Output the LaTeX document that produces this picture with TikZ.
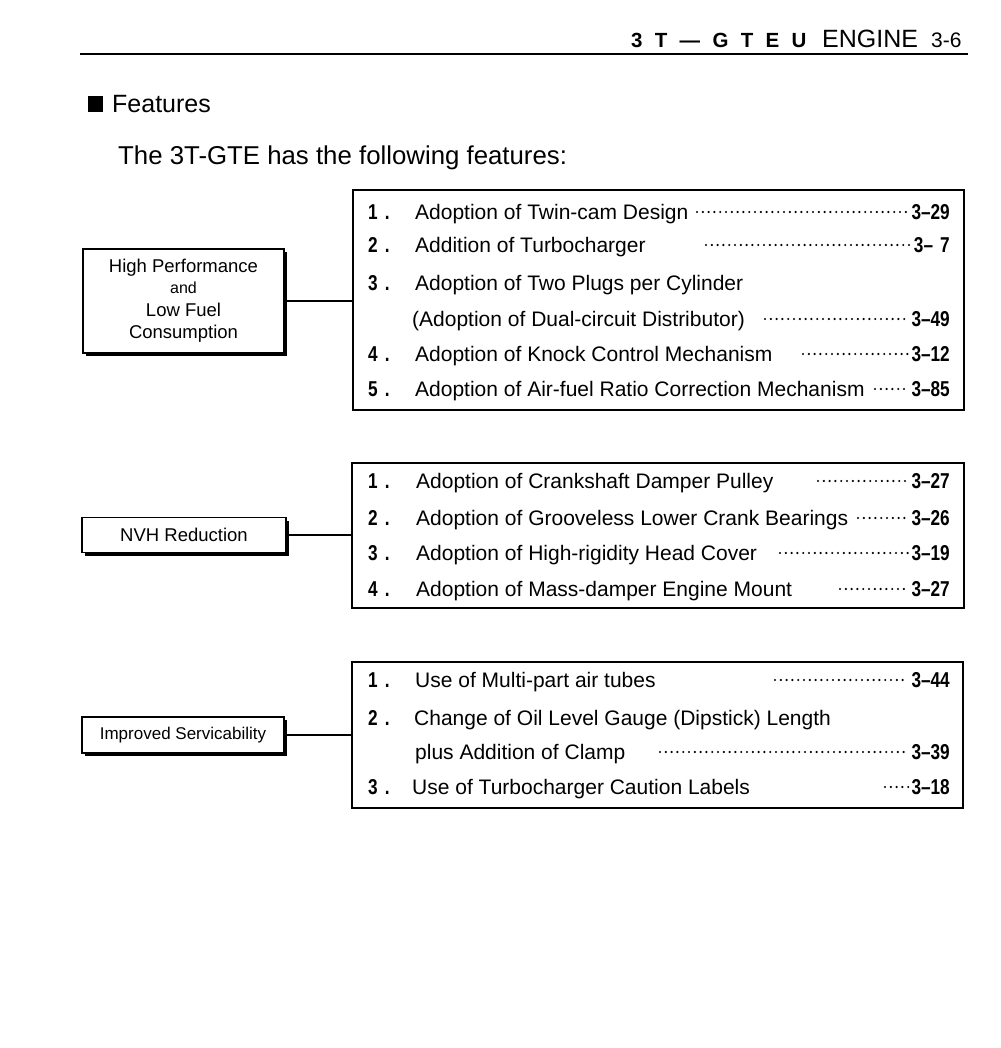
\documentclass[tikz,border=0pt]{standalone}
\usepackage{fontspec}
\setmainfont{Liberation Sans}
\newfontfamily\condfont{Liberation Sans}[FakeStretch=0.8]
\newfontfamily\spacedfont{Liberation Sans}[LetterSpace=60]
\usetikzlibrary{shadows}

\begin{document}
\begin{tikzpicture}[x=1pt,y=-1pt,
  groupbox/.style={draw=black,line width=1.1pt,fill=white,inner sep=0pt,align=center,
    drop shadow={shadow xshift=3pt,shadow yshift=-3pt,opacity=1,fill=black}},
  listbox/.style={draw=black,line width=1.3pt,inner sep=0pt},
  itemtext/.style={anchor=west,inner sep=0pt,text height=15pt,text depth=0pt,font=\fontsize{21}{25}\selectfont},
  itemnum/.style={anchor=west,inner sep=0pt,text height=15pt,text depth=0pt,font=\condfont\bfseries\fontsize{21.5}{25}\selectfont},
  itemref/.style={anchor=east,inner sep=0pt,text height=15pt,text depth=0pt,font=\condfont\bfseries\fontsize{21.5}{25}\selectfont},
  leader/.style={line width=2.4pt,line cap=round,dash pattern=on 0pt off 5.8pt,shorten >=3pt}]
\useasboundingbox (0,0) rectangle (1000,1048);

\node[anchor=base west,inner sep=0pt,font=\spacedfont\bfseries\fontsize{20.5}{24}\selectfont](code) at (631,48) {3T—GTEU};
\node[anchor=base west,inner sep=0pt,font=\fontsize{25}{29}\selectfont](engine) at (822,48) {ENGINE};
\node[anchor=base west,inner sep=0pt,font=\fontsize{21}{25}\selectfont](page) at (931,48) {3-6};
\draw[line width=1.4pt] (80,54) -- (968,54);

\node[fill=black,minimum width=15pt,minimum height=16pt,inner sep=0pt](bullet) at (95.5,104) {};
\node[anchor=west,inner sep=0pt,text height=18pt,text depth=0pt,font=\fontsize{25}{30}\selectfont](features) at (112,104) {Features};
\node[anchor=west,inner sep=0pt,text height=18pt,text depth=0pt,font=\fontsize{25.8}{30}\selectfont](intro) at (118,156) {The 3T-GTE has the following features:};

\node[groupbox,minimum width=201pt,minimum height=104pt,font=\fontsize{18.5}{22.5}\selectfont](perf) at (183.5,301) {High Performance\\[-1.5pt]{\fontsize{16}{18}\selectfont and}\\Low Fuel\\Consumption};
\node[groupbox,minimum width=204pt,minimum height=35pt,font=\fontsize{18.5}{22.5}\selectfont](nvh) at (184,535) {NVH Reduction};
\node[groupbox,minimum width=202pt,minimum height=36pt,font=\fontsize{17}{20}\selectfont](serv) at (183,735) {Improved Servicability};

\node[listbox,minimum width=611pt,minimum height=220pt](perflist) at (658.5,300) {};
\node[listbox,minimum width=612pt,minimum height=145pt](nvhlist) at (658,535.5) {};
\node[listbox,minimum width=611pt,minimum height=146pt](servlist) at (657.5,735) {};

\draw[line width=1.1pt] (perf.east) -- (perf.east -| perflist.west);
\draw[line width=1.1pt] (nvh.east) -- (nvh.east -| nvhlist.west);
\draw[line width=1.1pt] (serv.east) -- (serv.east -| servlist.west);

\node[itemnum](pn1) at (368,212) {1\hspace{7pt}.};
\node[itemtext](pt1) at (415,212) {Adoption of Twin-cam Design};
\node[itemref](pr1) at (950,212) {3–29};
\node[itemnum](pn2) at (368,245) {2\hspace{7pt}.};
\node[itemtext](pt2) at (415,245) {Addition of Turbocharger};
\node[itemref](pr2) at (950,245) {3–\,\,7};
\node[itemnum](pn3) at (368,283) {3\hspace{7pt}.};
\node[itemtext](pt3) at (415,283) {Adoption of Two Plugs per Cylinder};
\node[itemtext](pt3b) at (412,319) {(Adoption of Dual-circuit Distributor)};
\node[itemref](pr3) at (950,319) {3–49};
\node[itemnum](pn4) at (368,354) {4\hspace{7pt}.};
\node[itemtext](pt4) at (415,354) {Adoption of Knock Control Mechanism};
\node[itemref](pr4) at (950,354) {3–12};
\node[itemnum](pn5) at (368,389) {5\hspace{7pt}.};
\node[itemtext](pt5) at (415,389) {Adoption of Air-fuel Ratio Correction Mechanism};
\node[itemref](pr5) at (950,389) {3–85};

\coordinate (pd1) at (697,212);
\coordinate (pd2) at (706,245);
\coordinate (pd3) at (765,319);
\coordinate (pd4) at (803,354);
\coordinate (pd5) at (875,389);
\draw[leader] (pd1) -- (pr1.west);
\draw[leader] (pd2) -- (pr2.west);
\draw[leader] (pd3) -- (pr3.west);
\draw[leader] (pd4) -- (pr4.west);
\draw[leader] (pd5) -- (pr5.west);

\node[itemnum](nn1) at (368,481) {1\hspace{7pt}.};
\node[itemtext](nt1) at (416,481) {Adoption of Crankshaft Damper Pulley};
\node[itemref](nr1) at (950,481) {3–27};
\node[itemnum](nn2) at (368,518) {2\hspace{7pt}.};
\node[itemtext](nt2) at (416,518) {Adoption of Grooveless Lower Crank Bearings};
\node[itemref](nr2) at (950,518) {3–26};
\node[itemnum](nn3) at (368,553) {3\hspace{7pt}.};
\node[itemtext](nt3) at (416,553) {Adoption of High-rigidity Head Cover};
\node[itemref](nr3) at (950,553) {3–19};
\node[itemnum](nn4) at (368,589) {4\hspace{7pt}.};
\node[itemtext](nt4) at (416,589) {Adoption of Mass-damper Engine Mount};
\node[itemref](nr4) at (950,589) {3–27};

\coordinate (nd1) at (818,481);
\coordinate (nd2) at (858,518);
\coordinate (nd3) at (780,553);
\coordinate (nd4) at (840,589);
\draw[leader] (nd1) -- (nr1.west);
\draw[leader] (nd2) -- (nr2.west);
\draw[leader] (nd3) -- (nr3.west);
\draw[leader] (nd4) -- (nr4.west);

\node[itemnum](sn1) at (368,680) {1\hspace{7pt}.};
\node[itemtext](st1) at (415,680) {Use of Multi-part air tubes};
\node[itemref](sr1) at (950,680) {3–44};
\node[itemnum](sn2) at (368,718) {2\hspace{7pt}.};
\node[itemtext](st2) at (414,718) {Change of Oil Level Gauge (Dipstick) Length};
\node[itemtext](st2b) at (415,752) {plus Addition of Clamp};
\node[itemref](sr2) at (950,752) {3–39};
\node[itemnum](sn3) at (368,787) {3\hspace{7pt}.};
\node[itemtext](st3) at (412,787) {Use of Turbocharger Caution Labels};
\node[itemref](sr3) at (950,787) {3–18};

\coordinate (sd1) at (775,680);
\coordinate (sd2) at (660,752);
\coordinate (sd3) at (885,787);
\draw[leader] (sd1) -- (sr1.west);
\draw[leader] (sd2) -- (sr2.west);
\draw[leader] (sd3) -- (sr3.west);

\end{tikzpicture}
\end{document}
